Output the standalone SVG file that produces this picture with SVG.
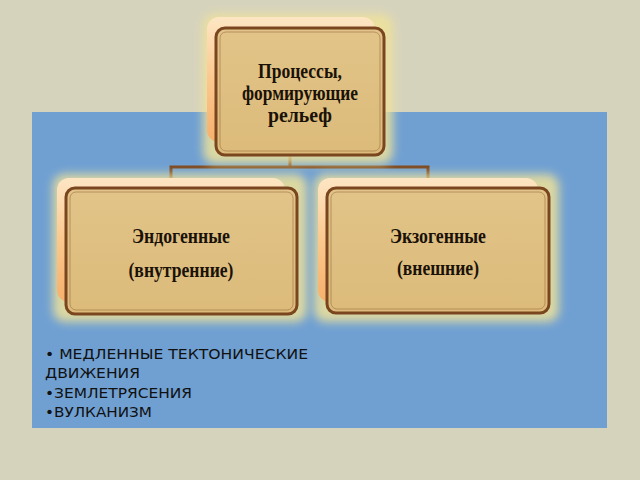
<svg xmlns="http://www.w3.org/2000/svg" width="640" height="480" viewBox="0 0 640 480">
<defs>
<filter id="glow" x="-20%" y="-20%" width="140%" height="140%"><feGaussianBlur stdDeviation="5"/></filter>
<linearGradient id="back" x1="0" y1="0" x2="0" y2="1">
<stop offset="0" stop-color="#fde6c4"/><stop offset="0.5" stop-color="#fbc88e"/><stop offset="1" stop-color="#f6b06c"/>
</linearGradient>
<linearGradient id="front" x1="0" y1="0" x2="0" y2="1">
<stop offset="0" stop-color="#e2c489"/><stop offset="1" stop-color="#dcbb7a"/>
</linearGradient>
<style>
.glow{fill:#efe29a;opacity:0.85;filter:url(#glow)}
.back{fill:url(#back)}
.front{fill:url(#front);stroke:#7a4620;stroke-width:3}
.inner{fill:none;stroke:#a67a4c;stroke-width:1;opacity:0.7}
.lbl{font-family:"Liberation Serif","Times New Roman",serif;font-weight:bold;font-size:20px;fill:#1a1208;text-anchor:middle}
.conn{fill:none;stroke:#7a4620;stroke-width:3}
.bul{font-family:"DejaVu Sans","Noto Sans",sans-serif;font-size:14px;fill:#111}
</style>
</defs>
<rect width="640" height="480" fill="#d6d3bd"/>
<rect x="32" y="112" width="575" height="316" fill="#70a0d2"/>
<g id="connectors">
<path class="conn" d="M290 155 V167 M171 178 V167 H428 V178"/>
</g>
<g id="top">
<rect class="glow" x="203" y="14" width="190" height="150" rx="12"/>
<rect class="back" x="207" y="17" width="168" height="125" rx="12"/>
<rect class="front" x="216" y="28" width="168" height="127" rx="9"/>
<rect class="inner" x="220" y="32" width="160" height="119" rx="6"/>
<text class="lbl" x="300" y="78" textLength="84" lengthAdjust="spacingAndGlyphs">Процессы,</text>
<text class="lbl" x="300" y="100" textLength="116" lengthAdjust="spacingAndGlyphs">формирующие</text>
<text class="lbl" x="300" y="122" textLength="64" lengthAdjust="spacingAndGlyphs">рельеф</text>
</g>
<g id="endo">
<rect class="glow" x="53" y="174" width="254" height="148" rx="12"/>
<rect class="back" x="57" y="178" width="228" height="124" rx="12"/>
<rect class="front" x="66" y="188" width="231" height="126" rx="9"/>
<rect class="inner" x="70" y="192" width="223" height="118" rx="6"/>
<text class="lbl" x="181" y="243" textLength="98" lengthAdjust="spacingAndGlyphs">Эндогенные</text>
<text class="lbl" x="181" y="277" textLength="105" lengthAdjust="spacingAndGlyphs">(внутренние)</text>
</g>
<g id="exo">
<rect class="glow" x="314" y="174" width="245" height="148" rx="12"/>
<rect class="back" x="318" y="178" width="220" height="124" rx="12"/>
<rect class="front" x="327" y="188" width="222" height="125" rx="9"/>
<rect class="inner" x="331" y="192" width="214" height="117" rx="6"/>
<text class="lbl" x="438" y="243" textLength="96" lengthAdjust="spacingAndGlyphs">Экзогенные</text>
<text class="lbl" x="438" y="275" textLength="82" lengthAdjust="spacingAndGlyphs">(внешние)</text>
</g>
<g id="list">
<text class="bul" x="45" y="359" textLength="263" lengthAdjust="spacingAndGlyphs">• МЕДЛЕННЫЕ ТЕКТОНИЧЕСКИЕ</text>
<text class="bul" x="45" y="378" textLength="95" lengthAdjust="spacingAndGlyphs">ДВИЖЕНИЯ</text>
<text class="bul" x="45" y="398" textLength="147" lengthAdjust="spacingAndGlyphs">•ЗЕМЛЕТРЯСЕНИЯ</text>
<text class="bul" x="45" y="417" textLength="107" lengthAdjust="spacingAndGlyphs">•ВУЛКАНИЗМ</text>
</g>
</svg>
